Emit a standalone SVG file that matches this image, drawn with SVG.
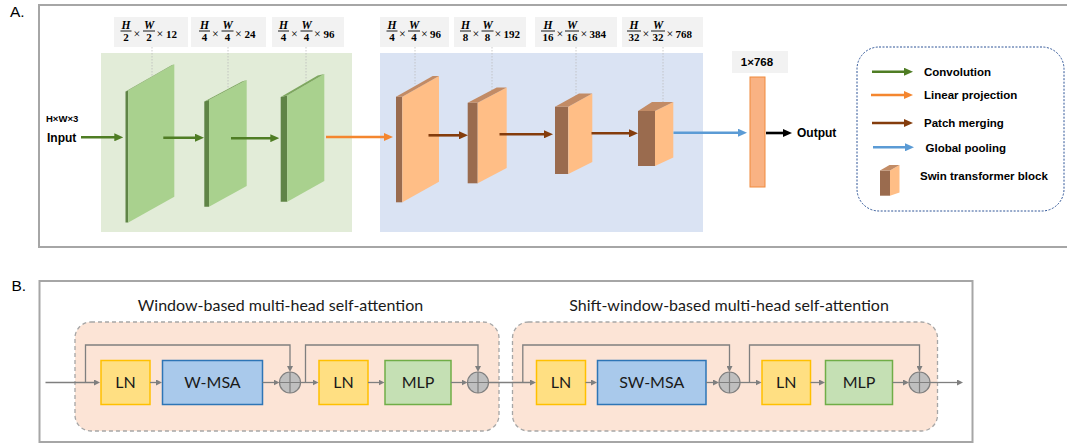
<svg xmlns="http://www.w3.org/2000/svg" width="1067" height="444" viewBox="0 0 1067 444">
  <style>
    .panel { fill: none; stroke: #a6a6a6; stroke-width: 2; }
    .tag { font-family: "Liberation Sans", Arial, sans-serif; font-size: 15.5px; fill: #000; }
    .dimbox { fill: #f2f2f2; }
    .math { font-family: "Liberation Serif", "Times New Roman", serif; font-weight: bold; fill: #000; }
    .var { font-style: italic; font-size: 11.5px; }
    .num { font-size: 11px; }
    .times { font-weight: normal; font-size: 12px; }
    .fbar { stroke: #000; stroke-width: 0.9; }
    .guide { stroke: #bdbdbd; stroke-width: 0.8; stroke-dasharray: 1.5 1.5; }
    .bold { font-family: "Liberation Sans", Arial, sans-serif; font-weight: bold; fill: #000; }
    .plate-front { fill: #a9d18e; }
    .plate-side { fill: #5f8446; }
    .plate-top { fill: #7ea760; }
    .blk-front { fill: #9a6b4e; }
    .blk-side { fill: #ffbe86; }
    .blk-top { fill: #c28b65; }
    .thick { fill: none; stroke-width: 2.6; }
    .grp { fill: #fce4d6; stroke: #a6a6a6; stroke-width: 1.3; stroke-dasharray: 4 3; }
    .grptitle { font-family: Lato, "Liberation Sans", sans-serif; font-size: 16px; fill: #1a1a1a; }
    .op { font-family: Lato, "Liberation Sans", sans-serif; font-size: 16px; fill: #1a1a1a; text-anchor: middle; }
    .ln { fill: #ffdf82; stroke: #ffc000; stroke-width: 1.5; }
    .msa { fill: #a9c9eb; stroke: #2e75b6; stroke-width: 1.5; }
    .mlp { fill: #c5e0b4; stroke: #70ad47; stroke-width: 1.5; }
    .flow { fill: none; stroke: #7f7f7f; stroke-width: 1.3; }
    .add circle { fill: #bfbfbf; stroke: #7f7f7f; stroke-width: 1.2; }
    .add path { stroke: #7f7f7f; stroke-width: 1.2; }
  </style>
  <defs>
    <marker id="hGreen" viewBox="0 0 9 8" refX="1" refY="4" markerWidth="9" markerHeight="8" markerUnits="userSpaceOnUse" orient="auto"><path d="M0,0 L9,4 L0,8 z" fill="#4f7d24"/></marker>
    <marker id="hOrange" viewBox="0 0 9 8" refX="1" refY="4" markerWidth="9" markerHeight="8" markerUnits="userSpaceOnUse" orient="auto"><path d="M0,0 L9,4 L0,8 z" fill="#f4862f"/></marker>
    <marker id="hBrown" viewBox="0 0 9 8" refX="1" refY="4" markerWidth="9" markerHeight="8" markerUnits="userSpaceOnUse" orient="auto"><path d="M0,0 L9,4 L0,8 z" fill="#843c0c"/></marker>
    <marker id="hBlue" viewBox="0 0 9 8" refX="1" refY="4" markerWidth="9" markerHeight="8" markerUnits="userSpaceOnUse" orient="auto"><path d="M0,0 L9,4 L0,8 z" fill="#5b9bd5"/></marker>
    <marker id="hBlack" viewBox="0 0 9 8" refX="1" refY="4" markerWidth="9" markerHeight="8" markerUnits="userSpaceOnUse" orient="auto"><path d="M0,0 L9,4 L0,8 z" fill="#000"/></marker>
    <marker id="hGray" viewBox="0 0 6 6" refX="1" refY="3" markerWidth="6" markerHeight="6" markerUnits="userSpaceOnUse" orient="auto"><path d="M0,0 L6,3 L0,6 z" fill="#7f7f7f"/></marker>
  </defs>

  <!-- ============ Panel A ============ -->
  <text class="tag" x="10" y="17">A.</text>
  <rect class="panel" x="39" y="5" width="1040" height="242"/>

  <!-- stage backgrounds -->
  <rect id="convStage" x="101" y="53" width="251" height="179" fill="#e2ecd8"/>
  <rect id="swinStage" x="380" y="53" width="323" height="179" fill="#dae3f3"/>

  <!-- size guides -->
  <g id="guides">
    <line class="guide" x1="152" y1="47" x2="152" y2="77"/>
    <line class="guide" x1="228" y1="47" x2="228" y2="89"/>
    <line class="guide" x1="306" y1="47" x2="306" y2="84.5"/>
    <line class="guide" x1="415" y1="47" x2="415" y2="84"/>
    <line class="guide" x1="492" y1="47" x2="492" y2="95"/>
    <line class="guide" x1="576" y1="47" x2="576" y2="96"/>
    <line class="guide" x1="663" y1="47" x2="663" y2="102"/>
  </g>

  <!-- feature size labels -->
  <g id="dim1" class="math">
    <rect class="dimbox" x="114" y="17" width="74" height="30"/>
    <text class="var" x="126" y="28.5" text-anchor="middle">H</text>
    <line class="fbar" x1="120.5" y1="31" x2="131.5" y2="31"/>
    <text class="num" x="126" y="40.5" text-anchor="middle">2</text>
    <text class="times" x="137" y="37.5" text-anchor="middle">×</text>
    <text class="var" x="149" y="28.5" text-anchor="middle">W</text>
    <line class="fbar" x1="143" y1="31" x2="155" y2="31"/>
    <text class="num" x="149" y="40.5" text-anchor="middle">2</text>
    <text class="times" x="160" y="37.5" text-anchor="middle">×</text>
    <text class="num" x="166" y="37.5">12</text>
  </g>
  <g id="dim2" class="math">
    <rect class="dimbox" x="191" y="17" width="75" height="30"/>
    <text class="var" x="204.5" y="28.5" text-anchor="middle">H</text>
    <line class="fbar" x1="199" y1="31" x2="210" y2="31"/>
    <text class="num" x="204.5" y="40.5" text-anchor="middle">4</text>
    <text class="times" x="215.5" y="37.5" text-anchor="middle">×</text>
    <text class="var" x="227.5" y="28.5" text-anchor="middle">W</text>
    <line class="fbar" x1="221.5" y1="31" x2="233.5" y2="31"/>
    <text class="num" x="227.5" y="40.5" text-anchor="middle">4</text>
    <text class="times" x="238.5" y="37.5" text-anchor="middle">×</text>
    <text class="num" x="244.5" y="37.5">24</text>
  </g>
  <g id="dim3" class="math">
    <rect class="dimbox" x="272" y="17" width="72" height="30"/>
    <text class="var" x="283.5" y="28.5" text-anchor="middle">H</text>
    <line class="fbar" x1="278" y1="31" x2="289" y2="31"/>
    <text class="num" x="283.5" y="40.5" text-anchor="middle">4</text>
    <text class="times" x="294.5" y="37.5" text-anchor="middle">×</text>
    <text class="var" x="306.5" y="28.5" text-anchor="middle">W</text>
    <line class="fbar" x1="300.5" y1="31" x2="312.5" y2="31"/>
    <text class="num" x="306.5" y="40.5" text-anchor="middle">4</text>
    <text class="times" x="317.5" y="37.5" text-anchor="middle">×</text>
    <text class="num" x="323.5" y="37.5">96</text>
  </g>
  <g id="dim4" class="math">
    <rect class="dimbox" x="380" y="17" width="69" height="30"/>
    <text class="var" x="392" y="28.5" text-anchor="middle">H</text>
    <line class="fbar" x1="386.5" y1="31" x2="397.5" y2="31"/>
    <text class="num" x="392" y="40.5" text-anchor="middle">4</text>
    <text class="times" x="402.5" y="37.5" text-anchor="middle">×</text>
    <text class="var" x="414" y="28.5" text-anchor="middle">W</text>
    <line class="fbar" x1="408" y1="31" x2="420" y2="31"/>
    <text class="num" x="414" y="40.5" text-anchor="middle">4</text>
    <text class="times" x="424.5" y="37.5" text-anchor="middle">×</text>
    <text class="num" x="430" y="37.5">96</text>
  </g>
  <g id="dim5" class="math">
    <rect class="dimbox" x="454" y="17" width="72" height="30"/>
    <text class="var" x="465.5" y="28.5" text-anchor="middle">H</text>
    <line class="fbar" x1="460" y1="31" x2="471" y2="31"/>
    <text class="num" x="465.5" y="40.5" text-anchor="middle">8</text>
    <text class="times" x="476" y="37.5" text-anchor="middle">×</text>
    <text class="var" x="487.5" y="28.5" text-anchor="middle">W</text>
    <line class="fbar" x1="481.5" y1="31" x2="493.5" y2="31"/>
    <text class="num" x="487.5" y="40.5" text-anchor="middle">8</text>
    <text class="times" x="498" y="37.5" text-anchor="middle">×</text>
    <text class="num" x="503.5" y="37.5">192</text>
  </g>
  <g id="dim6" class="math">
    <rect class="dimbox" x="535" y="17" width="82" height="30"/>
    <text class="var" x="548" y="28.5" text-anchor="middle">H</text>
    <line class="fbar" x1="541" y1="31" x2="555" y2="31"/>
    <text class="num" x="548" y="40.5" text-anchor="middle">16</text>
    <text class="times" x="560" y="37.5" text-anchor="middle">×</text>
    <text class="var" x="572" y="28.5" text-anchor="middle">W</text>
    <line class="fbar" x1="565" y1="31" x2="579" y2="31"/>
    <text class="num" x="572" y="40.5" text-anchor="middle">16</text>
    <text class="times" x="584" y="37.5" text-anchor="middle">×</text>
    <text class="num" x="589.5" y="37.5">384</text>
  </g>
  <g id="dim7" class="math">
    <rect class="dimbox" x="622" y="17" width="81" height="30"/>
    <text class="var" x="634" y="28.5" text-anchor="middle">H</text>
    <line class="fbar" x1="627" y1="31" x2="641" y2="31"/>
    <text class="num" x="634" y="40.5" text-anchor="middle">32</text>
    <text class="times" x="646" y="37.5" text-anchor="middle">×</text>
    <text class="var" x="658" y="28.5" text-anchor="middle">W</text>
    <line class="fbar" x1="651" y1="31" x2="665" y2="31"/>
    <text class="num" x="658" y="40.5" text-anchor="middle">32</text>
    <text class="times" x="670" y="37.5" text-anchor="middle">×</text>
    <text class="num" x="675.5" y="37.5">768</text>
  </g>
  <g id="dim8">
    <rect class="dimbox" x="732" y="51" width="56" height="22"/>
    <text class="bold" x="757" y="66" font-size="11.5" text-anchor="middle">1×768</text>
  </g>

  <!-- convolution feature maps -->
  <g id="conv1">
    <polygon class="plate-side" points="125.5,91.5 128.3,90.5 128.3,222.5 125.5,222.5"/>
    <polygon class="plate-front" points="128.3,90.5 174.3,64.3 174.3,196.7 128.3,222.5"/>
    <polygon class="plate-top" points="125.5,91.5 171.5,65.3 174.3,64.3 128.3,90.5"/>
  </g>
  <g id="conv2">
    <polygon class="plate-side" points="204.3,101.5 209,100 209,206.7 204.3,206.7"/>
    <polygon class="plate-front" points="209,100 246.7,80 246.7,186 209,206.7"/>
    <polygon class="plate-top" points="204.3,101.5 242,81.5 246.7,80 209,100"/>
  </g>
  <g id="conv3">
    <polygon class="plate-side" points="280.7,97 287.3,95.5 287.3,201.7 280.7,201.7"/>
    <polygon class="plate-front" points="287.3,95.5 324.3,74 324.3,181 287.3,201.7"/>
    <polygon class="plate-top" points="280.7,97 317.7,75.5 324.3,74 287.3,95.5"/>
  </g>

  <!-- swin transformer stages -->
  <g id="swin1">
    <rect class="blk-front" x="396" y="96.7" width="6.3" height="105.6"/>
    <polygon class="blk-side" points="402.3,96.7 439,76 439,181.7 402.3,202.3"/>
    <polygon class="blk-top" points="396,96.7 432.7,76 439,76 402.3,96.7"/>
  </g>
  <g id="swin2">
    <rect class="blk-front" x="467.7" y="102.7" width="10" height="80.6"/>
    <polygon class="blk-side" points="477.7,102.7 506.7,87.4 506.7,168 477.7,183.3"/>
    <polygon class="blk-top" points="467.7,102.7 496.7,87.4 506.7,87.4 477.7,102.7"/>
  </g>
  <g id="swin3">
    <rect class="blk-front" x="555" y="106.7" width="13.3" height="67.3"/>
    <polygon class="blk-side" points="568.3,106.7 592.3,93.4 592.3,162 568.3,174"/>
    <polygon class="blk-top" points="555,106.7 579,93.4 592.3,93.4 568.3,106.7"/>
  </g>
  <g id="swin4">
    <rect class="blk-front" x="638" y="111" width="17" height="55"/>
    <polygon class="blk-side" points="655,111 673.3,102 673.3,157.5 655,166"/>
    <polygon class="blk-top" points="638,111 652,102 673.3,102 655,111"/>
  </g>

  <!-- pooled output vector -->
  <g id="pooled">
    <rect x="750" y="77" width="15" height="110" fill="#f9b283" stroke="#f08a3c" stroke-width="1"/>
  </g>

  <g id="ioText">
    <text class="bold" x="46" y="121.5" font-size="9.5">H×W×3</text>
    <text class="bold" x="47" y="141.7" font-size="12">Input</text>
    <text class="bold" x="797" y="137.3" font-size="12">Output</text>
  </g>

  <!-- pipeline arrows -->
  <g id="connectorsA">
    <line class="thick" stroke="#4f7d24" x1="81" y1="137.3" x2="115.3" y2="137.3" marker-end="url(#hGreen)"/>
    <line class="thick" stroke="#4f7d24" x1="163.3" y1="137.7" x2="196" y2="137.7" marker-end="url(#hGreen)"/>
    <line class="thick" stroke="#4f7d24" x1="231" y1="138.2" x2="271.3" y2="138.2" marker-end="url(#hGreen)"/>
    <line class="thick" stroke="#f4862f" x1="326" y1="137" x2="385" y2="137" marker-end="url(#hOrange)"/>
    <line class="thick" stroke="#843c0c" x1="428.5" y1="135.3" x2="460" y2="135.3" marker-end="url(#hBrown)"/>
    <line class="thick" stroke="#843c0c" x1="499.5" y1="134.3" x2="545" y2="134.3" marker-end="url(#hBrown)"/>
    <line class="thick" stroke="#843c0c" x1="591.5" y1="133.3" x2="630" y2="133.3" marker-end="url(#hBrown)"/>
    <line class="thick" stroke="#5b9bd5" x1="673.5" y1="132.7" x2="739" y2="132.7" marker-end="url(#hBlue)"/>
    <line class="thick" stroke="#000" stroke-width="2" x1="766" y1="133" x2="784" y2="133" marker-end="url(#hBlack)"/>
  </g>

  <!-- legend -->
  <g id="legend">
    <rect x="857" y="47" width="207" height="164" rx="22" fill="none" stroke="#2f5597" stroke-width="1" stroke-dasharray="2 1.5"/>
    <line class="thick" stroke="#4f7d24" x1="872" y1="71.7" x2="905" y2="71.7" marker-end="url(#hGreen)"/>
    <line class="thick" stroke="#f4862f" x1="871" y1="95" x2="905" y2="95" marker-end="url(#hOrange)"/>
    <line class="thick" stroke="#843c0c" x1="872" y1="123" x2="905" y2="123" marker-end="url(#hBrown)"/>
    <line class="thick" stroke="#5b9bd5" x1="873" y1="147.3" x2="906" y2="147.3" marker-end="url(#hBlue)"/>
    <rect class="blk-front" x="880" y="170.5" width="10" height="25.2"/>
    <polygon class="blk-side" points="890,170.5 899.5,165 899.5,192.5 890,195.7"/>
    <polygon class="blk-top" points="880,170.5 889.5,165 899.5,165 890,170.5"/>
    <text class="bold" x="924" y="75.7" font-size="11.5">Convolution</text>
    <text class="bold" x="924" y="99" font-size="11.5">Linear projection</text>
    <text class="bold" x="924" y="127" font-size="11.5">Patch merging</text>
    <text class="bold" x="925.5" y="151.5" font-size="11.5">Global pooling</text>
    <text class="bold" x="920" y="179.8" font-size="11.5">Swin transformer block</text>
  </g>

  <!-- ============ Panel B ============ -->
  <text class="tag" x="11.5" y="290.5">B.</text>
  <rect class="panel" x="39.5" y="281" width="933" height="161"/>

  <g id="wmsaBlock">
    <rect class="grp" x="75" y="322" width="424" height="109" rx="16"/>
    <text class="grptitle" x="280.5" y="310.5" text-anchor="middle">Window-based multi-head self-attention</text>
  </g>
  <g id="swmsaBlock">
    <rect class="grp" x="512.5" y="322" width="425" height="109" rx="16"/>
    <text class="grptitle" x="729" y="310.5" text-anchor="middle">Shift-window-based multi-head self-attention</text>
  </g>

  <g id="ln1"><rect class="ln" x="101" y="360.5" width="49" height="44"/><text class="op" x="125.5" y="388">LN</text></g>
  <g id="wmsa"><rect class="msa" x="162.5" y="360.5" width="100" height="44"/><text class="op" x="212.5" y="388">W-MSA</text></g>
  <g id="add1" class="add"><circle cx="290" cy="382.5" r="10.5"/><path d="M279.5,382.5 H300.5 M290,372 V393"/></g>
  <g id="ln2"><rect class="ln" x="319" y="360.5" width="49" height="44"/><text class="op" x="343.5" y="388">LN</text></g>
  <g id="mlp1"><rect class="mlp" x="385" y="360.5" width="66" height="44"/><text class="op" x="418" y="388">MLP</text></g>
  <g id="add2" class="add"><circle cx="478" cy="382.5" r="10.5"/><path d="M467.5,382.5 H488.5 M478,372 V393"/></g>

  <g id="ln3"><rect class="ln" x="536.5" y="360.5" width="49" height="44"/><text class="op" x="561" y="388">LN</text></g>
  <g id="swmsa"><rect class="msa" x="597.5" y="360.5" width="108.5" height="44"/><text class="op" x="651.75" y="388">SW-MSA</text></g>
  <g id="add3" class="add"><circle cx="729.5" cy="382.5" r="10.5"/><path d="M719,382.5 H740 M729.5,372 V393"/></g>
  <g id="ln4"><rect class="ln" x="762" y="360.5" width="48.5" height="44"/><text class="op" x="786.25" y="388">LN</text></g>
  <g id="mlp2"><rect class="mlp" x="825.5" y="360.5" width="67" height="44"/><text class="op" x="859" y="388">MLP</text></g>
  <g id="add4" class="add"><circle cx="919.5" cy="382.5" r="10.5"/><path d="M909,382.5 H930 M919.5,372 V393"/></g>

  <g id="connectorsB">
    <line class="flow" x1="45.5" y1="382.5" x2="95" y2="382.5" marker-end="url(#hGray)"/>
    <polyline class="flow" points="85.5,382.5 85.5,345 290,345 290,367" marker-end="url(#hGray)"/>
    <line class="flow" x1="150" y1="382.5" x2="157" y2="382.5" marker-end="url(#hGray)"/>
    <line class="flow" x1="262.5" y1="382.5" x2="274.5" y2="382.5" marker-end="url(#hGray)"/>
    <line class="flow" x1="300.5" y1="382.5" x2="313.5" y2="382.5" marker-end="url(#hGray)"/>
    <polyline class="flow" points="305.5,382.5 305.5,345 478,345 478,367" marker-end="url(#hGray)"/>
    <line class="flow" x1="368" y1="382.5" x2="379.5" y2="382.5" marker-end="url(#hGray)"/>
    <line class="flow" x1="451" y1="382.5" x2="462.5" y2="382.5" marker-end="url(#hGray)"/>
    <line class="flow" x1="488.5" y1="382.5" x2="531" y2="382.5" marker-end="url(#hGray)"/>
    <polyline class="flow" points="522.8,382.5 522.8,345 729.5,345 729.5,367" marker-end="url(#hGray)"/>
    <line class="flow" x1="585.5" y1="382.5" x2="592" y2="382.5" marker-end="url(#hGray)"/>
    <line class="flow" x1="706" y1="382.5" x2="714" y2="382.5" marker-end="url(#hGray)"/>
    <line class="flow" x1="740" y1="382.5" x2="756.5" y2="382.5" marker-end="url(#hGray)"/>
    <polyline class="flow" points="749.5,382.5 749.5,345 919.5,345 919.5,367" marker-end="url(#hGray)"/>
    <line class="flow" x1="810.5" y1="382.5" x2="820" y2="382.5" marker-end="url(#hGray)"/>
    <line class="flow" x1="892.5" y1="382.5" x2="904" y2="382.5" marker-end="url(#hGray)"/>
    <line class="flow" x1="930" y1="382.5" x2="958" y2="382.5" marker-end="url(#hGray)"/>
  </g>
</svg>
